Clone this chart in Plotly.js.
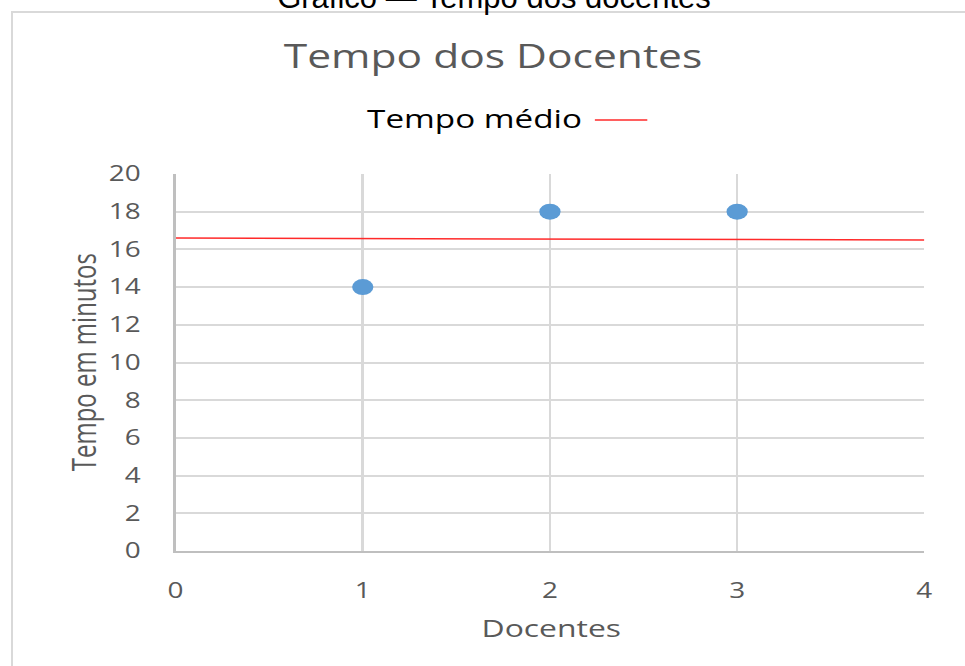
<!DOCTYPE html>
<html>
<head>
<meta charset="utf-8">
<script src="https://cdn.plot.ly/plotly-3.0.1.min.js"></script>
<style>
  html, body { margin:0; padding:0; width:965px; height:666px; overflow:hidden; background:#fff; }
  #frame { position:absolute; left:11px; top:11px; width:1000px; height:700px; border:2px solid #d9d9d9; box-sizing:border-box; }
  #caption { position:absolute; left:0; width:988px; top:-20px; text-align:center; font-family:"Liberation Sans", Arial, sans-serif; font-size:31px; color:#000; white-space:nowrap; }
  #wrap { position:absolute; left:0; top:0; width:726px; height:666px; transform:scaleX(1.33); transform-origin:0 0; }
  #chart { width:726px; height:666px; }
</style>
</head>
<body>
<div id="frame"></div>
<div id="caption">Gráfico — Tempo dos docentes</div>
<div id="wrap"><div id="chart"></div></div>
<script>
// Data
const docentes = [1, 2, 3];
const tempos = [14, 18, 18];
const mediaX = [0, 4];
const mediaY = [16.6, 16.5];
const xTicks = [0, 1, 2, 3, 4];
const yTicks = [0, 2, 4, 6, 8, 10, 12, 14, 16, 18, 20];

const gray = '#595959';
const font = '"Open Sans", "Noto Sans", sans-serif';

const traces = [
  { x: mediaX, y: mediaY, type: 'scatter', mode: 'lines', name: 'Tempo médio',
    line: { color: '#ff2a2a', width: 1.5 }, hoverinfo: 'skip' },
  { x: docentes, y: tempos, type: 'scatter', mode: 'markers', name: 'Tempo',
    marker: { color: '#5b9bd5', size: 16 } }
];

const layout = {
  width: 726, height: 666,
  margin: { l: 131.6, r: 31.3, t: 174, b: 115 },
  paper_bgcolor: 'rgba(0,0,0,0)', plot_bgcolor: '#fff',
  showlegend: false,
  font: { family: font, color: gray },
  title: { text: 'Tempo dos Docentes', font: { family: font, size: 32, color: gray },
           xref: 'container', x: 0.5106, xanchor: 'center', yref: 'container', y: 0.9144, yanchor: 'middle' },
  xaxis: { range: [0, 4], tickvals: xTicks, ticktext: xTicks.map(String),
           showgrid: true, gridcolor: '#d9d9d9', gridwidth: 2, zeroline: false,
           showline: true, linecolor: '#bfbfbf', linewidth: 2, ticks: '',
           ticklabelstandoff: 20, tickfont: { family: font, size: 21, color: gray } },
  yaxis: { range: [0, 20], tickvals: yTicks, ticktext: yTicks.map(String),
           showgrid: true, gridcolor: '#d9d9d9', gridwidth: 2, zeroline: false,
           showline: true, linecolor: '#bfbfbf', linewidth: 2, ticks: '',
           ticklabelstandoff: 20, tickfont: { family: font, size: 21, color: gray } },
  annotations: [
    { text: 'Tempo médio', xref: 'paper', yref: 'paper', x: 0.4003, y: 1.1485,
      xanchor: 'center', yanchor: 'middle', showarrow: false,
      font: { family: font, size: 25, color: '#000' } },
    { text: 'Tempo em minutos', xref: 'paper', yref: 'paper', x: -0.124, y: 0.501,
      xanchor: 'center', yanchor: 'middle', textangle: -90, showarrow: false,
      font: { family: font, size: 24, color: gray } },
    { text: 'Docentes', xref: 'paper', yref: 'paper', x: 0.5015, y: -0.204,
      xanchor: 'center', yanchor: 'middle', showarrow: false,
      font: { family: font, size: 24, color: gray } }
  ],
  shapes: [
    { type: 'line', xref: 'paper', yref: 'paper', x0: 0.560, x1: 0.630, y0: 1.1432, y1: 1.1432,
      line: { color: '#ff2a2a', width: 1.5 } }
  ]
};

Plotly.newPlot('chart', traces, layout, { displayModeBar: false, staticPlot: true });
</script>
</body>
</html>
